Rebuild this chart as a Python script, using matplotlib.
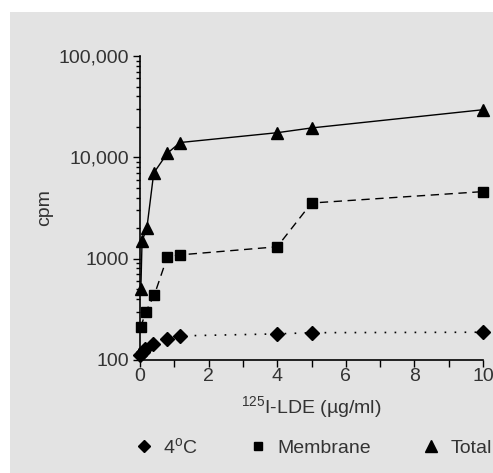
import matplotlib
matplotlib.use("Agg")
import matplotlib.pyplot as plt
from matplotlib.patches import Rectangle
from matplotlib.lines import Line2D
from matplotlib.ticker import FixedLocator, MultipleLocator, FuncFormatter, LogLocator, NullFormatter

plt.rcParams['font.family'] = ['Liberation Sans', 'DejaVu Sans']
plt.rcParams['mathtext.fontset'] = 'custom'
plt.rcParams['mathtext.rm'] = 'Liberation Sans'

# Data
total_x = [0.025, 0.06, 0.2, 0.4, 0.8, 1.17, 4, 5, 10]
total_y = [500, 1500, 2000, 7000, 11000, 14000, 17500, 19500, 29500]
membrane_x = [0.02, 0.17, 0.42, 0.8, 1.17, 4, 5, 10]
membrane_y = [210, 300, 440, 1050, 1090, 1310, 3540, 4590]
cold_x = [0.0, 0.08, 0.15, 0.37, 0.8, 1.17, 4, 5, 10]
cold_y = [112, 120, 128, 143, 161, 173, 181, 186, 188]
legend_labels = ["4$\\mathregular{^o}$C", "Membrane", "Total"]
ytick_vals = [100, 1000, 10000, 100000]
ytick_labels = ["100", "1000", "10,000", "100,000"]

W, H = 493, 473
fig = plt.figure(figsize=(W / 100, H / 100), dpi=100)
fig.patch.set_facecolor('white')
bg = '#e3e3e3'
fig.patches.append(Rectangle((10 / W, 0), 1, (H - 12) / H, transform=fig.transFigure,
                             facecolor=bg, edgecolor='none', zorder=-10))

ax = fig.add_axes([140 / W, 1 - 360 / H, (483 - 140) / W, (360 - 56) / H])
ax.set_facecolor('none')
txt = '#333333'

ax.plot(cold_x, cold_y, color='black', linestyle=(0, (1, 5)), linewidth=1.2,
        marker='D', markersize=7, clip_on=False)
ax.plot(membrane_x, membrane_y, color='black', linestyle=(0, (6, 4)), linewidth=1.0,
        marker='s', markersize=7, clip_on=False)
ax.plot(total_x, total_y, color='black', linestyle='-', linewidth=1.0,
        marker='^', markersize=9, clip_on=False)

ax.set_yscale('log')
ax.set_ylim(100, 100000)
ax.set_xlim(0, 10)
ax.yaxis.set_major_locator(FixedLocator(ytick_vals))
ax.yaxis.set_major_formatter(FuncFormatter(lambda v, p: ytick_labels[ytick_vals.index(int(round(v)))] if int(round(v)) in ytick_vals else ''))
ax.yaxis.set_minor_locator(LogLocator(base=10, subs=range(2, 10)))
ax.yaxis.set_minor_formatter(NullFormatter())
ax.xaxis.set_major_locator(MultipleLocator(2))
ax.xaxis.set_minor_locator(MultipleLocator(1))

for s in ['top', 'right']:
    ax.spines[s].set_visible(False)
for s in ['left', 'bottom']:
    ax.spines[s].set_linewidth(1.2)
    ax.spines[s].set_color('black')

ax.tick_params(axis='y', which='major', length=5, width=1, direction='out', labelsize=14, colors='black', labelcolor=txt, pad=3)
ax.tick_params(axis='y', which='minor', length=3, width=1, direction='out')
ax.tick_params(axis='x', which='both', length=5, width=1, direction='out', labelsize=14, labelcolor=txt, pad=1)

ax.set_xlabel("$\\mathregular{^{125}}$I-LDE (\u00b5g/ml)", fontsize=14, color=txt, labelpad=6)
ax.set_ylabel("cpm", fontsize=14, color=txt, labelpad=4)

handles = [Line2D([], [], color='black', marker='D', linestyle='none', markersize=6),
           Line2D([], [], color='black', marker='s', linestyle='none', markersize=6),
           Line2D([], [], color='black', marker='^', linestyle='none', markersize=8)]
leg = fig.legend(handles, legend_labels, loc='center', bbox_to_anchor=(314 / W, 1 - 447 / H),
                 ncol=3, frameon=False, fontsize=14, handlelength=0.8, handletextpad=0.6,
                 columnspacing=2.7, labelcolor=txt, borderpad=0, borderaxespad=0)

fig.savefig('out.png', dpi=100, facecolor=fig.get_facecolor())
